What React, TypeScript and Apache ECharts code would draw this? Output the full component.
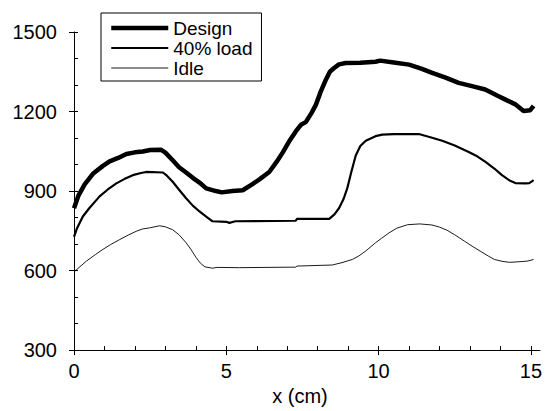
import React, { useEffect, useRef } from "react";
import * as echarts from "echarts";

const designX = [0, 0.15, 0.35, 0.62, 0.95, 1.17, 1.45, 1.72, 2.0, 2.26, 2.5, 2.85, 3.0, 3.24, 3.45, 3.68, 3.9, 4.12, 4.34, 4.66, 4.85, 5.2, 5.54, 5.86, 6.1, 6.41, 6.65, 6.85, 7.05, 7.28, 7.45, 7.61, 7.8, 7.94, 8.1, 8.27, 8.4, 8.54, 8.7, 8.92, 9.4, 9.9, 10.05, 10.5, 11.0, 11.4, 11.76, 12.2, 12.63, 13.1, 13.5, 13.94, 14.2, 14.49, 14.76, 14.98, 15.09];
const designY = [835, 884, 925, 965, 995, 1012, 1025, 1040, 1046, 1049, 1055, 1056, 1045, 1016, 990, 970, 950, 932, 910, 900, 895, 900, 903, 926, 945, 972, 1010, 1045, 1085, 1125, 1150, 1160, 1195, 1225, 1275, 1320, 1350, 1364, 1378, 1383, 1384, 1388, 1392, 1385, 1377, 1362, 1346, 1328, 1308, 1295, 1283, 1258, 1243, 1227, 1202, 1205, 1221];

const loadX = [0, 0.1, 0.29, 0.5, 0.84, 1.1, 1.39, 1.65, 1.93, 2.2, 2.37, 2.92, 3.05, 3.24, 3.45, 3.68, 3.9, 4.12, 4.35, 4.55, 5.0, 5.1, 5.3, 7.28, 7.32, 8.38, 8.55, 8.7, 8.85, 8.97, 9.1, 9.25, 9.4, 9.58, 9.9, 10.12, 10.5, 11.32, 11.7, 12.09, 12.5, 12.96, 13.25, 13.51, 13.8, 14.05, 14.3, 14.49, 14.82, 14.95, 15.09];
const loadY = [727, 760, 804, 835, 880, 905, 929, 945, 960, 968, 972, 970, 958, 935, 905, 873, 845, 823, 803, 786, 784, 780, 786, 788, 795, 795, 812, 835, 870, 910, 970, 1034, 1070, 1090, 1107, 1113, 1115, 1115, 1103, 1090, 1072, 1047, 1030, 1010, 985, 960, 940, 930, 929, 930, 941];

const idleX = [0, 0.1, 0.41, 0.7, 0.95, 1.2, 1.5, 1.8, 2.04, 2.25, 2.48, 2.81, 3.0, 3.24, 3.45, 3.68, 3.85, 4.01, 4.15, 4.3, 4.55, 4.7, 5.43, 7.28, 7.32, 8.48, 8.8, 9.14, 9.35, 9.58, 9.9, 10.1, 10.34, 10.6, 10.95, 11.35, 11.75, 12.0, 12.25, 12.5, 12.82, 13.1, 13.37, 13.6, 13.8, 14.05, 14.3, 14.71, 14.9, 15.09];
const idleY = [594, 605, 636, 660, 680, 698, 717, 735, 748, 757, 761, 769, 765, 754, 735, 705, 678, 649, 628, 614, 609, 612, 611, 613, 617, 621, 630, 642, 655, 674, 705, 722, 742, 760, 773, 776, 772, 764, 752, 735, 711, 690, 671, 655, 642, 635, 631, 634, 636, 642];

const xMajor = [0, 5, 10, 15];
const xMinor = [0, 1, 2, 3, 4, 5, 6, 7, 8, 9, 10, 11, 12, 13, 14, 15];
const yMajor = [300, 600, 900, 1200, 1500];
const yMinor = [300, 400, 500, 600, 700, 800, 900, 1000, 1100, 1200, 1300, 1400, 1500];
const legendNames = ["Design", "40% load", "Idle"];
const lineWidths = [4.5, 2.2, 0.9];

const zip = (xs: number[], ys: number[]) => xs.map((x, i) => [x, ys[i]]);

const FONT = "Liberation Sans";

export default function App() {
  const ref = useRef<HTMLDivElement>(null);
  useEffect(() => {
    const chart = echarts.init(ref.current!, null, { renderer: "svg" });
    const baseX = { type: "value", min: 0, max: 15.3, splitLine: { show: false } };
    const baseY = { type: "value", min: 300, max: 1500, splitLine: { show: false } };
    chart.setOption({
      animation: false,
      backgroundColor: "#fff",
      grid: { left: 74, right: 3, top: 32, bottom: 58 },
      legend: {
        orient: "vertical",
        left: 101,
        top: 13,
        padding: [5, 9, 3, 8],
        borderColor: "#000",
        borderWidth: 1,
        itemWidth: 57,
        itemHeight: 14,
        itemGap: 0,
        itemStyle: { color: "rgba(0,0,0,0)", borderWidth: 0 },
        textStyle: { fontFamily: FONT, fontSize: 19, color: "#000", lineHeight: 20 },
        data: legendNames.map((n, i) => ({ name: n, lineStyle: { width: lineWidths[i], color: "#000" } })),
      },
      xAxis: [
        {
          ...baseX,
          interval: 5,
          name: "x (cm)",
          nameLocation: "middle",
          nameGap: 34,
          nameTextStyle: { fontFamily: FONT, fontSize: 20, color: "#000", padding: [0, 14, 0, 0] },
          axisLine: { onZero: false, lineStyle: { color: "#000", width: 1 } },
          axisTick: { show: true, length: 5, customValues: xMajor, lineStyle: { color: "#000" } },
          axisLabel: { customValues: xMajor, fontFamily: FONT, fontSize: 20, color: "#000", margin: 11, formatter: (v: number) => String(v) },
        },
        {
          ...baseX,
          position: "bottom",
          axisLine: { show: false, onZero: false },
          axisTick: { show: true, inside: true, length: 4, customValues: xMinor, lineStyle: { color: "#000" } },
          axisLabel: { show: false },
        },
      ],
      yAxis: [
        {
          ...baseY,
          interval: 300,
          axisLine: { show: true, onZero: false, lineStyle: { color: "#000", width: 1 } },
          axisTick: { show: true, length: 5, customValues: yMajor, lineStyle: { color: "#000" } },
          axisLabel: { customValues: yMajor, fontFamily: FONT, fontSize: 20, color: "#000", margin: 17, formatter: (v: number) => String(v) },
        },
        {
          ...baseY,
          position: "left",
          axisLine: { show: false, onZero: false },
          axisTick: { show: true, inside: true, length: 4, customValues: yMinor, lineStyle: { color: "#000" } },
          axisLabel: { show: false },
        },
      ],
      series: [
        { name: legendNames[0], data: zip(designX, designY) },
        { name: legendNames[1], data: zip(loadX, loadY) },
        { name: legendNames[2], data: zip(idleX, idleY) },
      ].map((s, i) => ({
        ...s,
        type: "line",
        showSymbol: false,
        symbol: "none",
        color: "#000",
        lineStyle: { color: "#000", width: lineWidths[i] },
      })),
    });
    return () => chart.dispose();
  }, []);
  return (
    <div
      ref={ref}
      style={{ position: "fixed", left: 0, top: 0, width: 545, height: 411 }}
    />
  );
}
